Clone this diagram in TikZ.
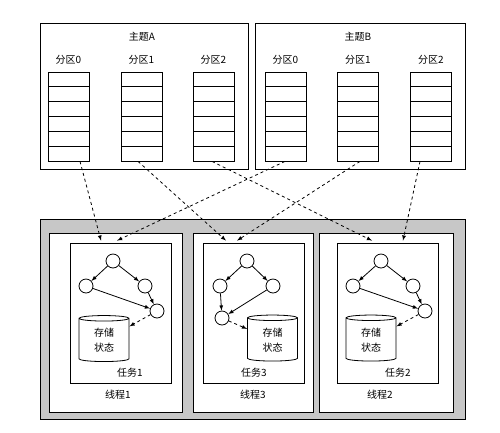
\documentclass[tikz,border=0pt]{standalone}
\usepackage{fontspec}
\setmainfont{Noto Sans CJK SC}
\usepackage{tikz}
\usetikzlibrary{arrows,shapes.geometric}

\begin{document}
\begin{tikzpicture}[x=1pt,y=-1pt,line width=0.8pt]
            \tikzset{Cell/.style={%
                    shape=rectangle,%
                    draw=black,%
                    minimum width=41pt,%
                    minimum height=14.83pt,%
                    inner sep=0pt,%
                },
                Vertex/.style={%
                    shape=circle,%
                    draw=black,%
                    fill=white,%
                    minimum size=14pt,%
                    inner sep=0pt,%
                },
                Store/.style={%
                    shape=cylinder,%
                    shape border rotate=90,%
                    draw=black,%
                    fill=white,%
                    minimum width=50pt,%
                    minimum height=46pt,%
                    aspect=0.25,%
                    align=center,%
                    inner sep=1pt,%
                },
                Box/.style={draw=black,fill=white,inner sep=0pt},
                every node/.style={font=\fontsize{10pt}{15pt}\selectfont},
            }
            \useasboundingbox (0,0) rectangle (500,432);

                % topics
                \node[Box,minimum width=208pt,minimum height=146pt] (TA) at (144,96) {};
                \node[Box,minimum width=210pt,minimum height=146pt] (TB) at (360,96) {};
                \node (TAl) at (142,37) {主题A};
                \node (TBl) at (358,37) {主题B};
                \foreach \n/\x/\t in {A0/68.5/0, A1/141.5/1, A2/213.5/2, B0/285.5/0, B1/358/1, B2/431/2} {
                    \node (\n l) at (\x,60) {分区\t};
                    \foreach \k in {1,...,6}
                        \node[Cell] (\n-\k) at (\x,{72+(\k-0.5)*14.83}) {};
                }

                % threads and tasks
                \node[draw=black,fill=black!22,minimum width=425pt,minimum height=200pt] (G) at (252.5,319) {};
                \node[Box,minimum width=133pt,minimum height=179pt] (P1) at (115.5,322.5) {};
                \node[Box,minimum width=120pt,minimum height=179pt] (P3) at (253,322.5) {};
                \node[Box,minimum width=134pt,minimum height=179pt] (P2) at (386,322.5) {};
                \node (P1l) at (118,395) {线程1};
                \node (P3l) at (253,395) {线程3};
                \node (P2l) at (380,395) {线程2};
                \node[Box,minimum width=101pt,minimum height=140pt] (T1) at (120.5,313) {};
                \node[Box,minimum width=101pt,minimum height=140pt] (T3) at (253.5,313) {};
                \node[Box,minimum width=101pt,minimum height=140pt] (T2) at (387.5,313) {};
                \node (T1l) at (130,373) {任务1};
                \node (T3l) at (254,373) {任务3};
                \node (T2l) at (398,373) {任务2};

                % task 1
                \node[Vertex] (1a) at (113,261) {};
                \node[Vertex] (1b) at (86,286) {};
                \node[Vertex] (1c) at (145,286) {};
                \node[Vertex] (1d) at (157,311) {};
                \node[Store] (S1) at (104,340.5) {存储\\状态};
                % task 3
                \node[Vertex] (3a) at (247,261) {};
                \node[Vertex] (3b) at (220,286) {};
                \node[Vertex] (3c) at (273,286) {};
                \node[Vertex] (3d) at (222,318) {};
                \node[Store] (S3) at (272.5,340) {存储\\状态};
                % task 2
                \node[Vertex] (2a) at (381,261) {};
                \node[Vertex] (2b) at (353,286) {};
                \node[Vertex] (2c) at (413,286) {};
                \node[Vertex] (2d) at (425,311) {};
                \node[Store] (S2) at (371,340) {存储\\状态};

                \path (1a) edge[-latex] (1b);
                \path (1a) edge[-latex] (1c);
                \path (1b) edge[-latex] (1d);
                \path (1c) edge[-latex] (1d);
                \path (1d) edge[-latex,dashed] (S1);
                \path (3a) edge[-latex] (3b);
                \path (3a) edge[-latex] (3c);
                \path (3b) edge[-latex] (3d);
                \path (3c) edge[-latex] (3d);
                \path (3d) edge[-latex,dashed] (S3);
                \path (2a) edge[-latex] (2b);
                \path (2a) edge[-latex] (2c);
                \path (2b) edge[-latex] (2d);
                \path (2c) edge[-latex] (2d);
                \path (2d) edge[-latex,dashed] (S2);

                % partitions to tasks
                \path ([xshift=11.5pt]A0-6.south) edge[-latex,dashed] ([xshift=-19.5pt,yshift=2pt]T1.north);
                \path ([xshift=-3.5pt]A1-6.south) edge[-latex,dashed] ([xshift=-27.5pt,yshift=2pt]T3.north);
                \path ([xshift=-1.5pt]A2-6.south) edge[-latex,dashed] ([xshift=-15.5pt,yshift=2pt]T2.north);
                \path ([xshift=-0.5pt]B0-6.south) edge[-latex,dashed] ([xshift=-3.5pt,yshift=2pt]T1.north);
                \path ([xshift=2pt]B1-6.south) edge[-latex,dashed] ([xshift=-16.5pt,yshift=2pt]T3.north);
                \path ([xshift=-11pt]B2-6.south) edge[-latex,dashed] ([xshift=15.5pt,yshift=2pt]T2.north);
        \end{tikzpicture}
\end{document}
